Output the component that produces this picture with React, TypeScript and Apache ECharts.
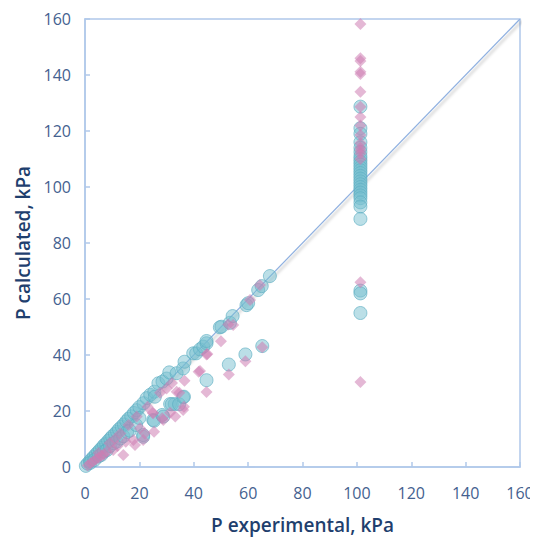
import React, { useEffect, useRef } from "react";
import * as echarts from "echarts";

// Pressure readings, kPa: [experimental, calculated]
const circleSeries: number[][] = [
  [0.3, 0.4], [1, 1.2], [1.8, 2.1], [2.5, 2.9], [3.2, 3.6], [4, 4.5], [4.8, 5.3], [5.5, 6.1],
  [6.3, 6.9], [7, 7.8], [7.8, 8.4], [8.5, 9.3], [9.3, 10.1], [10, 10.9], [11, 11.8], [11.8, 12.6],
  [12.5, 13.5], [13.5, 14.4], [14.3, 15.2], [15.2, 16.3], [16, 17.2], [17, 18.1], [18, 19.3],
  [19, 20.3], [20, 21.4], [21.5, 22.8], [22.7, 24.6], [24, 25.8], [25.5, 26.9], [27, 29.9],
  [28.5, 30.5], [30, 31.6], [31, 33.8], [33.7, 33.5], [36.1, 35.2], [36.6, 37.6], [39.8, 40.6],
  [40.9, 40.6], [42.3, 42], [43.5, 43], [44.7, 44.2], [44.7, 45], [49.6, 49.9], [50.2, 50.1],
  [53.3, 51.5], [54.3, 53.9], [59.4, 57.8], [60, 58.5], [63.7, 63.2], [65, 64.6], [68, 68.2],
  [2, 1.5], [3.5, 2.5], [5, 3.8], [6, 4.3], [7, 5.5], [8, 6], [9.2, 7.5], [10.5, 8.5],
  [11.6, 9], [13, 10.2], [14.1, 11], [15.5, 12.5], [16.5, 13], [18.8, 15], [20, 17.5],
  [21.4, 10.8], [21.4, 11.4], [25.1, 16.8], [25.4, 16.5], [28.4, 18.6], [28.8, 18], [25.7, 25.1],
  [31.3, 22.5], [33, 22.5], [31.9, 22.4], [34.6, 22.4], [36.1, 24.9], [36.4, 25.1], [44.7, 31],
  [52.9, 36.6], [59, 40.2], [65.2, 43.2],
  [101.3, 128.7], [101.3, 121], [101.3, 119], [101.3, 116], [101.3, 114], [101.3, 112.5],
  [101.3, 111], [101.3, 110], [101.3, 109], [101.3, 108], [101.3, 107], [101.3, 106],
  [101.3, 105], [101.3, 104], [101.3, 103], [101.3, 102], [101.3, 101], [101.3, 100],
  [101.3, 99], [101.3, 98], [101.3, 97], [101.3, 96], [101.3, 94.5], [101.3, 93],
  [101.3, 88.6], [101.3, 63], [101.3, 62], [101.3, 55],
];

const diamondSeries: number[][] = [
  [1, 0.5], [2, 1.3], [3, 2], [4, 2.8], [5, 3.3], [6, 4], [7, 4.5], [8, 5.5], [10.4, 6.1],
  [12, 7.5], [14.1, 4.3], [15, 9], [17.8, 9.6], [18.4, 7.9], [20.2, 13.8], [21.4, 9.6],
  [22, 12], [24.9, 19.4], [25.4, 12.6], [27.6, 26.5], [28.4, 17.4], [28.8, 16.8], [25.1, 19.2],
  [31.3, 19.4], [33.2, 18], [33.7, 26.9], [34.7, 26.5], [36.1, 20.4], [36.4, 21.5], [36.6, 30.8],
  [41.8, 34], [42.3, 34.3], [44.7, 26.8], [44.7, 40.2], [45, 40.4], [50, 44.9], [52.7, 50.9],
  [52.9, 33], [54.5, 50.7], [59, 37.8], [60.7, 59.6], [64.3, 65], [65.2, 42.8],
  [5, 5], [9, 8.5], [11, 10], [13, 12], [16, 15], [19, 18], [23, 21.5], [30, 28], [32, 30],
  [101.3, 158.2], [101.3, 146], [101.3, 145], [101.3, 141.2], [101.3, 140.4], [101.3, 134],
  [101.3, 128.7], [101.3, 125], [101.3, 122], [101.3, 118.6], [101.3, 115.6], [101.3, 114],
  [101.3, 113], [101.3, 112], [101.3, 110], [101.3, 66], [101.3, 30.4],
];

// Line of perfect agreement
const identityLine: number[][] = [[0, 0], [160, 160]];

const axisMin = 0;
const axisMax = 160;
const axisStep = 20;

const labelColor = "#44618f";
const titleColor = "#1f3f6e";
const frameColor = "#b0c8ea";

export default function App() {
  const ref = useRef<HTMLDivElement>(null);

  useEffect(() => {
    if (!ref.current) return;
    const chart = echarts.init(ref.current, null, { renderer: "svg" });
    const axisCommon = {
      type: "value" as const,
      min: axisMin,
      max: axisMax,
      interval: axisStep,
      nameLocation: "middle" as const,
      nameTextStyle: {
        color: titleColor,
        fontSize: 19,
        fontFamily: "Open Sans",
        fontWeight: 600,
      },
      axisLine: { show: true, lineStyle: { color: frameColor, width: 1.5 } },
      axisTick: { show: true, inside: true, length: 5, lineStyle: { color: frameColor, width: 1.5 } },
      axisLabel: { color: labelColor, fontSize: 16, fontFamily: "Open Sans" },
      splitLine: { show: false },
    };
    chart.setOption({
      animation: false,
      backgroundColor: "#ffffff",
      grid: {
        left: 77,
        right: 18,
        top: 11,
        bottom: 70,
        outerBoundsMode: "none",
        containLabel: false,
        show: true,
        borderColor: frameColor,
        borderWidth: 1.5,
        backgroundColor: "transparent",
      },
      xAxis: {
        ...axisCommon,
        name: "P experimental, kPa",
        nameGap: 48,
        axisLabel: { ...axisCommon.axisLabel, margin: 18 },
      },
      yAxis: {
        ...axisCommon,
        name: "P calculated, kPa",
        nameGap: 47,
        axisLabel: { ...axisCommon.axisLabel, margin: 14 },
      },
      series: [
        {
          type: "line",
          data: identityLine,
          symbol: "none",
          z: 1,
          lineStyle: {
            color: "#8fb0e0",
            width: 1.2,
            shadowColor: "rgba(0,0,0,0.3)",
            shadowBlur: 3,
            shadowOffsetX: 2,
            shadowOffsetY: 2,
          },
          silent: true,
        },
        {
          type: "scatter",
          data: circleSeries,
          symbol: "circle",
          symbolSize: 13,
          z: 2,
          itemStyle: {
            color: "rgba(118,190,206,0.62)",
            borderColor: "rgba(92,174,194,0.8)",
            borderWidth: 1,
          },
        },
        {
          type: "scatter",
          data: diamondSeries,
          symbol: "diamond",
          symbolSize: 12,
          z: 3,
          itemStyle: {
            color: "rgba(205,125,178,0.68)",
          },
        },
      ],
    });
    return () => chart.dispose();
  }, []);

  return <div ref={ref} style={{ width: 530, height: 529 }} />;
}
